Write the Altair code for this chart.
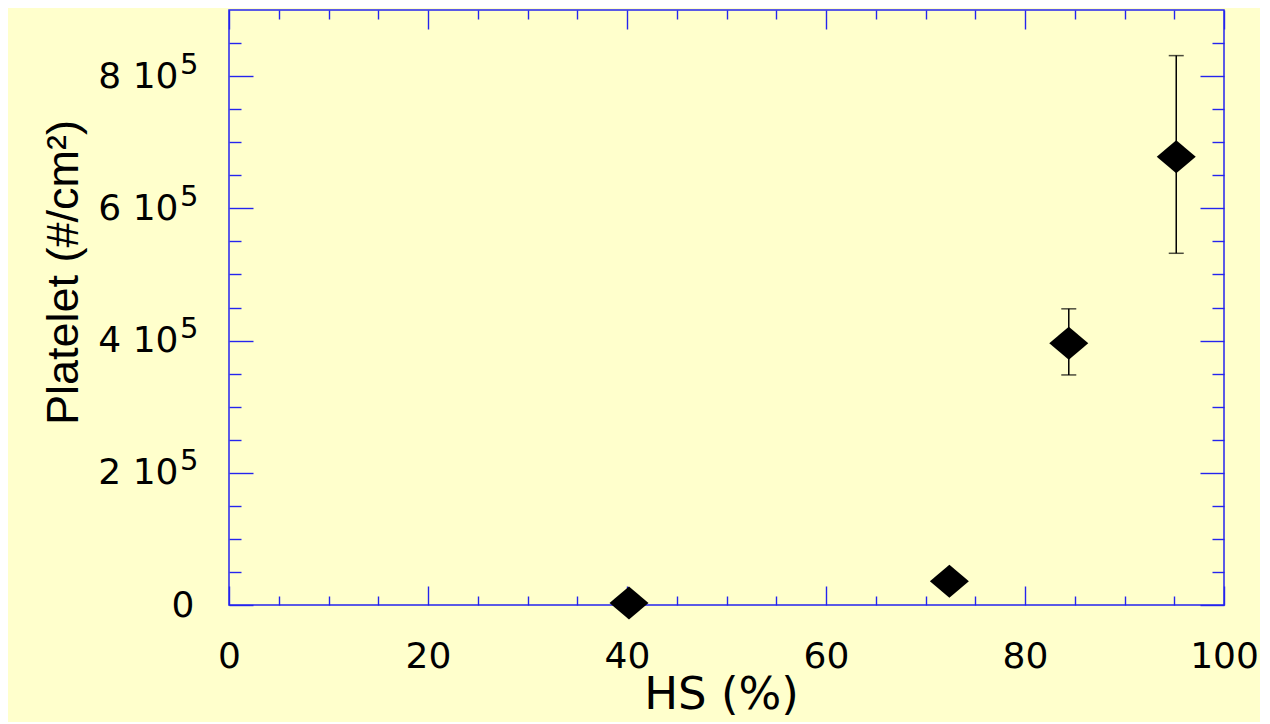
import altair as alt
import pandas as pd

# ---- data ----
hs = [40.2, 72.4, 84.4, 95.2]
platelet = [3000, 36000, 396000, 678000]

err_hs = [84.4, 95.2]
err_low = [348000, 532000]
err_high = [448000, 831000]

x_major = [0, 20, 40, 60, 80, 100]
x_minor = [5, 10, 15, 25, 30, 35, 45, 50, 55, 65, 70, 75, 85, 90, 95]
y_major = [0, 200000, 400000, 600000, 800000]
y_minor = [50000, 100000, 150000, 250000, 300000, 350000, 450000, 500000,
           550000, 650000, 700000, 750000, 850000]

pts = pd.DataFrame({"hs": hs, "platelet": platelet})
err = pd.DataFrame({"hs": err_hs, "lo": err_low, "hi": err_high})

W, H = 995, 595
BLUE = "#2424ee"
BG = "#FFFFCC"

xs = alt.Scale(domain=[0, 100], nice=False, zero=False)
ys = alt.Scale(domain=[0, 900000], nice=False, zero=False)


def tick_axis(orient, values, size, offset):
    return alt.Axis(orient=orient, values=values, tickSize=size, offset=offset,
                    labels=False, domain=False, grid=False, title=None,
                    tickColor=BLUE, tickWidth=1.4)


# error bars (vertical)
rules = alt.Chart(err).mark_rule(color="black", strokeWidth=1.5).encode(
    x=alt.X("hs:Q", scale=xs, axis=tick_axis("top", x_major, 19, -H)),
    y=alt.Y("lo:Q", scale=ys, axis=alt.Axis(
        orient="left", values=y_major, ticks=False, tickSize=0, domain=False,
        grid=False, title=None, labelFlush=False,
        labelExpr="datum.value == 0 ? '0' : '5'",
        labelFont="DejaVu Sans", labelColor="black",
        labelFontSize={"condition": {"test": "datum.value == 0", "value": 36}, "value": 29},
        labelOffset={"condition": {"test": "datum.value == 0", "value": 0}, "value": -12},
        labelPadding={"condition": {"test": "datum.value == 0", "value": 35}, "value": 31},
    )),
    y2="hi:Q",
)

cap_hi = alt.Chart(err).mark_tick(orient="horizontal", color="black", size=15, thickness=1.5).encode(
    x=alt.X("hs:Q", scale=xs, axis=tick_axis("top", x_minor, 9, -H)),
    y=alt.Y("hi:Q", scale=ys, axis=tick_axis("right", y_major, 24, -W)),
)

cap_lo = alt.Chart(err).mark_tick(orient="horizontal", color="black", size=15, thickness=1.5).encode(
    x=alt.X("hs:Q", scale=xs, axis=tick_axis("bottom", x_major, 19, -H)),
    y=alt.Y("lo:Q", scale=ys, axis=tick_axis("right", y_minor, 12, -W)),
)

dummy1 = alt.Chart(pts).mark_point(opacity=0).encode(
    x=alt.X("hs:Q", scale=xs, axis=tick_axis("bottom", x_minor, 9, -H)),
    y=alt.Y("platelet:Q", scale=ys, axis=tick_axis("left", y_major, 24, -W)),
)

dummy2 = alt.Chart(pts).mark_point(opacity=0).encode(
    x=alt.X("hs:Q", scale=xs, axis=None),
    y=alt.Y("platelet:Q", scale=ys, axis=tick_axis("left", y_minor, 12, -W)),
)

diamond = "M-1,0L0,-0.85L1,0L0,0.85Z"
points = alt.Chart(pts).mark_point(shape=diamond, size=1521, filled=True,
                                   color="black", opacity=1, strokeWidth=0).encode(
    x=alt.X("hs:Q", scale=xs, axis=alt.Axis(
        orient="bottom", values=x_major, ticks=False, tickSize=0, domain=False,
        grid=False, title="HS (%)", labelFlush=False, labelPadding=34,
        labelFont="DejaVu Sans", labelFontSize=36, labelColor="black",
        titleFont="DejaVu Sans", titleFontSize=45, titleFontWeight="normal",
        titleColor="black", titleX=492, titleY=103, titleBaseline="alphabetic",
        titleAlign="center",
    )),
    y=alt.Y("platelet:Q", scale=ys, axis=alt.Axis(
        orient="left", values=y_major, ticks=False, tickSize=0, domain=False,
        grid=False, title="Platelet (#/cm²)", labelFlush=False, labelPadding=51,
        labelExpr="datum.value == 0 ? '' : format(datum.value / 100000, 'd') + ' 10'",
        labelFont="DejaVu Sans", labelFontSize=36, labelColor="black",
        titleFont="Liberation Sans", titleFontSize=45, titleFontWeight="normal",
        titleColor="black", titleX=-152, titleY=262, titleAngle=270,
        titleBaseline="alphabetic", titleAlign="center",
    )),
)

chart = alt.layer(rules, cap_hi, cap_lo, dummy1, dummy2, points).resolve_axis(
    x="independent", y="independent"
).properties(
    width=W, height=H,
    autosize=alt.AutoSizeParams(type="none"),
    padding={"left": 221, "top": 2, "right": 36, "bottom": 117},
    background=BG,
).configure_view(
    stroke=BLUE, strokeWidth=1.5, fill=BG,
)

chart.save("out.html", embed_options={"renderer": "svg", "actions": False})
